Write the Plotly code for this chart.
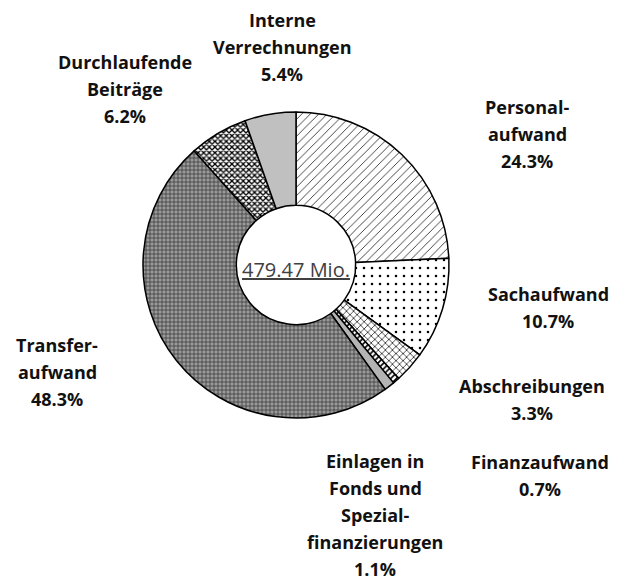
import plotly.graph_objects as go

labels = ["Personal-<br>aufwand", "Sachaufwand", "Abschreibungen", "Finanzaufwand",
          "Einlagen in<br>Fonds und<br>Spezial-<br>finanzierungen", "Transfer-<br>aufwand",
          "Durchlaufende<br>Beiträge", "Interne<br>Verrechnungen"]
values = [24.3, 10.7, 3.3, 0.7, 1.1, 48.3, 6.2, 5.4]
total_text = "479.47 Mio."

# label block centres in pixels (x, y from top)
label_pos = [(527, 134), (548, 307), (532, 399), (540, 475),
             (375, 515), (57, 372), (125, 89), (282, 47)]

W, H = 619, 582
cx, cy, r = 296, 265, 153

shapes = ["/", ".", "x", "/", "", "+", "x", ""]
fg = ["black", "black", "black", "black", "#b4b4b4", "#3a3a3a", "black", "#c0c0c0"]
bg = ["white", "white", "white", "white", "#b4b4b4", "#9a9a9a", "white", "#c0c0c0"]
size = [6, 8, 5, 4, 8, 4, 4, 8]
solid = [0.12, 0.08, 0.25, 0.4, 0.3, 0.35, 0.55, 0.3]

fig = go.Figure(go.Pie(
    labels=labels, values=values, sort=False, direction="clockwise", rotation=0,
    hole=0.39, textinfo="none", hoverinfo="label+percent", showlegend=False,
    marker=dict(colors=bg, line=dict(color="black", width=1.5),
                pattern=dict(shape=shapes, fgcolor=fg, bgcolor=bg, size=size,
                             solidity=solid, fillmode="replace")),
    domain=dict(x=[(cx - r) / W, (cx + r) / W], y=[1 - (cy + r) / H, 1 - (cy - r) / H]),
))

ann = []
lh = 27
for lab, v, (px, py) in zip(labels, values, label_pos):
    lines = lab.split("<br>") + [f"{v:.1f}%"]
    n = len(lines)
    for i, ln in enumerate(lines):
        y = py + (i - (n - 1) / 2) * lh
        ann.append(dict(x=px / W, y=1 - y / H, xref="paper", yref="paper", text=f"<b>{ln}</b>",
                        showarrow=False, xanchor="center", yanchor="middle",
                        font=dict(family="Open Sans", size=18, color="#111111")))
ann.append(dict(x=cx / W, y=1 - (cy + 4) / H, xref="paper", yref="paper",
                text=f"<u>{total_text}</u>", showarrow=False, xanchor="center", yanchor="middle",
                font=dict(family="Open Sans", size=20, color="#404040")))

fig.update_layout(width=W, height=H, margin=dict(l=0, r=0, t=0, b=0),
                  paper_bgcolor="white", plot_bgcolor="white", annotations=ann)
fig.write_html("out.html", config={"displayModeBar": False},
               post_script="document.body.style.margin='0';")
